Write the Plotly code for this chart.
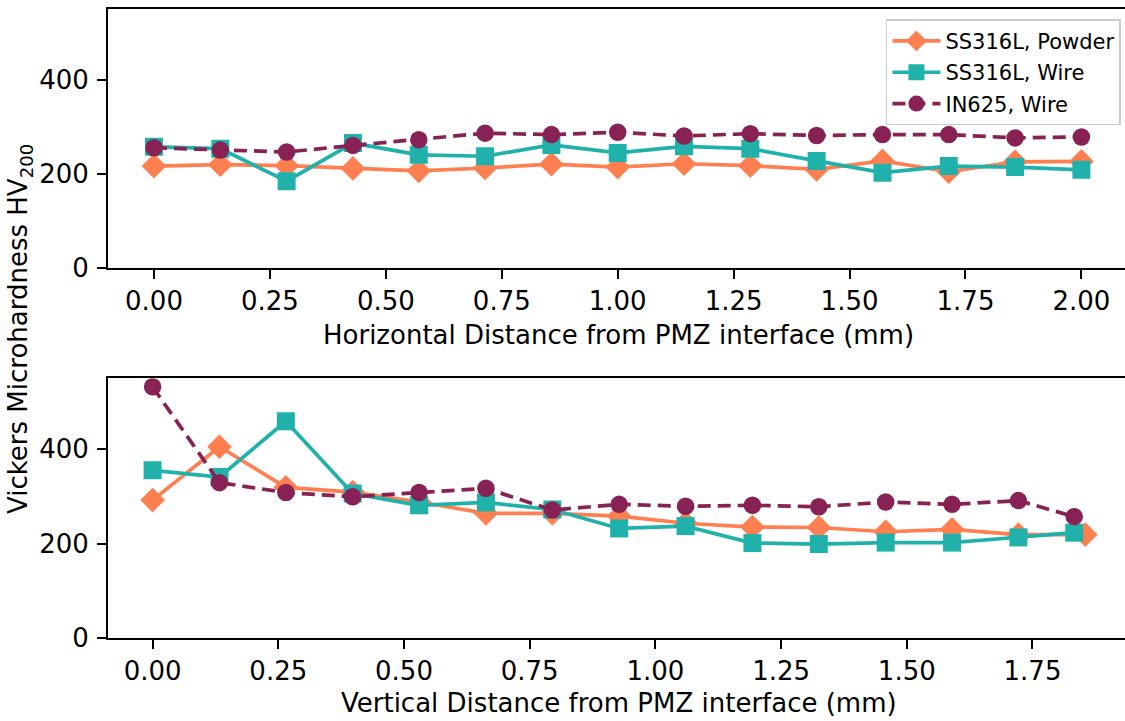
import plotly.graph_objects as go
from plotly.subplots import make_subplots

# ---------------- data ----------------
x_horizontal = [0.0, 0.143, 0.286, 0.429, 0.571, 0.714, 0.857, 1.0,
                1.143, 1.286, 1.429, 1.571, 1.714, 1.857, 2.0]
h_ss_powder = [216, 219, 217, 211, 206, 212, 220, 214, 221, 217, 209, 227, 204, 225, 226]
h_ss_wire = [257, 253, 184, 265, 240, 237, 261, 244, 258, 253, 227, 202, 216, 214, 208]
h_in625_wire = [255, 250, 246, 260, 272, 286, 283, 288, 280, 285, 281, 283, 283, 276, 278]

x_vertical_powder = [0.0, 0.133, 0.265, 0.398, 0.53, 0.663, 0.795, 0.928,
                     1.06, 1.193, 1.325, 1.458, 1.59, 1.722, 1.855]
x_vertical_wire = [0.0, 0.133, 0.265, 0.398, 0.53, 0.663, 0.795, 0.928,
                   1.06, 1.193, 1.325, 1.458, 1.59, 1.722, 1.833]
v_ss_powder = [292, 405, 319, 309, 288, 264, 264, 258, 243, 235, 234, 225, 230, 219, 219]
v_ss_wire = [355, 341, 459, 306, 281, 287, 272, 232, 237, 201, 199, 202, 202, 213, 223]
v_in625_wire = [532, 329, 308, 299, 308, 317, 271, 283, 279, 281, 278, 288, 283, 291, 257]

series_names = ["SS316L, Powder", "SS316L, Wire", "IN625, Wire"]
x_tick_top = [0, 0.25, 0.5, 0.75, 1.0, 1.25, 1.5, 1.75, 2.0]
x_tick_bottom = [0, 0.25, 0.5, 0.75, 1.0, 1.25, 1.5, 1.75]
y_ticks = [0, 200, 400]

x_title_top = "Horizontal Distance from PMZ interface (mm)"
x_title_bottom = "Vertical Distance from PMZ interface (mm)"
y_title = "Vickers Microhardness HV<sub>200</sub>"

# ---------------- styles ----------------
C_ORANGE = "#FF7F50"
C_TEAL = "#20B2AA"
C_WINE = "#882255"
FONT = "DejaVu Sans"
LW = 3.7

styles = [
    dict(color=C_ORANGE, symbol="diamond", size=19, dash="solid"),
    dict(color=C_TEAL, symbol="square", size=18, dash="solid"),
    dict(color=C_WINE, symbol="circle", size=17.5, dash="13px,7px"),
]

fig = make_subplots(rows=2, cols=1, vertical_spacing=0.0)

top_data = [(x_horizontal, h_ss_powder), (x_horizontal, h_ss_wire), (x_horizontal, h_in625_wire)]
bot_data = [(x_vertical_powder, v_ss_powder), (x_vertical_wire, v_ss_wire), (x_vertical_wire, v_in625_wire)]

for i, ((xs, ys), st, name) in enumerate(zip(top_data, styles, series_names)):
    fig.add_trace(go.Scatter(
        x=xs, y=ys, mode="lines+markers", name=name, legendgroup=f"g{i}",
        line=dict(color=st["color"], width=LW, dash=st["dash"]),
        marker=dict(color=st["color"], symbol=st["symbol"], size=st["size"], line=dict(width=0)),
        showlegend=True,
    ), row=1, col=1)

for i, ((xs, ys), st, name) in enumerate(zip(bot_data, styles, series_names)):
    fig.add_trace(go.Scatter(
        x=xs, y=ys, mode="lines+markers", name=name, legendgroup=f"g{i}",
        line=dict(color=st["color"], width=LW, dash=st["dash"]),
        marker=dict(color=st["color"], symbol=st["symbol"], size=st["size"], line=dict(width=0)),
        showlegend=False,
    ), row=2, col=1)

axis_common = dict(
    showgrid=False, zeroline=False, showline=True, linecolor="black", linewidth=2,
    ticks="outside", ticklen=9, tickwidth=2, tickcolor="black",
    tickfont=dict(family=FONT, size=26, color="black"),
)

fig.update_xaxes(**axis_common, mirror=True)
fig.update_yaxes(**axis_common, mirror=False, tickvals=y_ticks, range=[0, 550],
                 ticklabelstandoff=3)

fig.update_xaxes(range=[-0.0992, 2.094], tickvals=x_tick_top, tickformat=".2f",
                 domain=[0, 1], row=1, col=1)
fig.update_xaxes(range=[-0.0887, 1.934], tickvals=x_tick_bottom, tickformat=".2f",
                 domain=[0, 1], row=2, col=1)
fig.update_yaxes(domain=[0.5887, 1.0], row=1, col=1)
fig.update_yaxes(domain=[0.0, 0.4129], row=2, col=1)

title_font = dict(family=FONT, size=26, color="black")
fig.add_annotation(text=x_title_top, xref="paper", yref="paper", x=0.502, y=0.4817,
                   xanchor="center", yanchor="middle", showarrow=False, font=title_font)
fig.add_annotation(text=x_title_bottom, xref="paper", yref="paper", x=0.502, y=-0.1033,
                   xanchor="center", yanchor="middle", showarrow=False, font=title_font)
fig.add_annotation(text=y_title, xref="paper", yref="paper", x=-0.0865, y=0.4913,
                   xanchor="center", yanchor="middle", showarrow=False, textangle=-90,
                   font=title_font)

fig.update_layout(
    width=1125, height=721,
    margin=dict(l=108, r=0, t=9, b=83),
    paper_bgcolor="white", plot_bgcolor="white",
    font=dict(family=FONT, color="black"),
    legend=dict(
        x=0.996, y=0.9836, xanchor="right", yanchor="top",
        bgcolor="rgba(255,255,255,0.85)", bordercolor="#cccccc", borderwidth=1.5,
        font=dict(family=FONT, size=21, color="black"),
        traceorder="grouped", tracegroupgap=1, itemwidth=48,
    ),
)

fig.write_html("out.html")
